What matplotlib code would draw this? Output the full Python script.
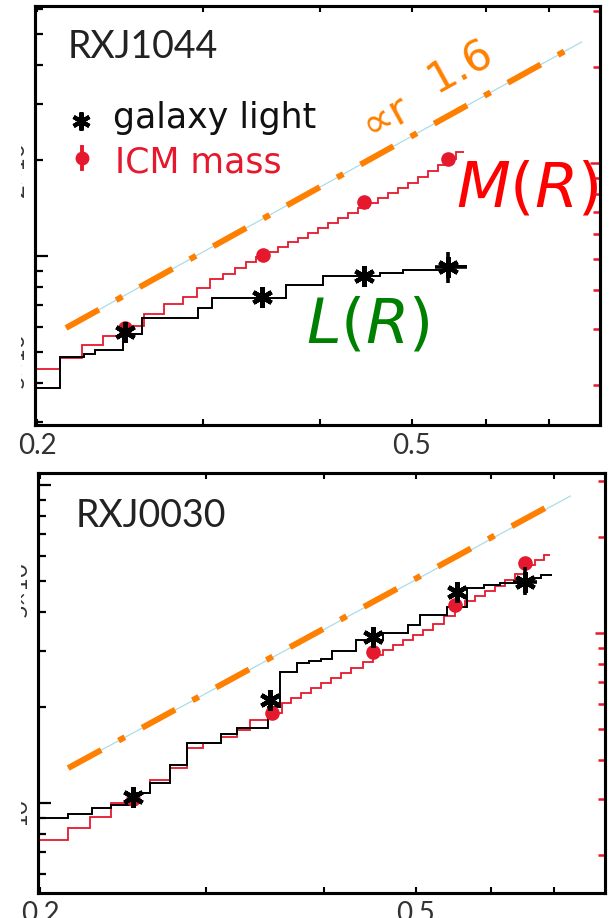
import matplotlib
matplotlib.use("Agg")
import matplotlib.pyplot as plt
from matplotlib.ticker import FixedLocator, NullFormatter, LogLocator, FixedFormatter
from matplotlib.transforms import blended_transform_factory, Bbox

plt.rcParams['font.family'] = ['Lato', 'DejaVu Sans']
plt.rcParams['mathtext.fontset'] = 'dejavusans'

# ---------------- data : radius R (Mpc) ----------------
XLIM = (0.199, 0.793)
x_major = [0.2, 0.5]
x_major_labels = ['0.2', '0.5']
x_minor = [0.3, 0.4, 0.6, 0.7]

# ---- RXJ1044 (top) ----
name1 = 'RXJ1044'
ylim1 = (0.2941, 6.113)
mass_factor1 = 5.10
r_edges_L1 = [0.199, 0.2115, 0.2244, 0.2304, 0.2468, 0.2586, 0.2964, 0.3068, 0.3676,
              0.4024, 0.4624, 0.4892, 0.5462, 0.5722]
L1 = [0.385, 0.481, 0.492, 0.506, 0.568, 0.638, 0.686, 0.738, 0.811, 0.865, 0.884, 0.904, 0.930]
r_edges_M1 = [0.199, 0.2115, 0.2232, 0.2350, 0.2468, 0.2598, 0.2728, 0.2858, 0.2958, 0.3054,
              0.3152, 0.3246, 0.3334, 0.3416, 0.3518, 0.3606, 0.3696, 0.3786, 0.3880, 0.3976,
              0.4074, 0.4174, 0.4278, 0.4384, 0.4492, 0.4602, 0.4716, 0.4832, 0.4952, 0.5076,
              0.5202, 0.5330, 0.5462, 0.5570, 0.5680]
M1 = [0.441, 0.478, 0.525, 0.560, 0.602, 0.657, 0.707, 0.743, 0.793, 0.847, 0.878, 0.917,
      0.957, 0.993, 1.029, 1.067, 1.107, 1.139, 1.181, 1.225, 1.270, 1.317, 1.365, 1.416,
      1.468, 1.522, 1.578, 1.636, 1.697, 1.772, 1.850, 1.932, 2.018, 2.123]
r_gal1 = [0.248, 0.3466, 0.4448, 0.5462]
L_gal1 = [0.577, 0.743, 0.865, 0.924]
L_gal1_yerr = [[0.10], [0.105]]
L_gal1_xerr = [[0.016], [0.026]]
r_icm1 = [0.248, 0.3476, 0.4448, 0.5462]
M_icm1 = [0.594, 1.007, 1.478, 2.018]
r_pow1 = [0.2147, 0.758]
pow1 = [0.594, 4.709]
r_pow1_dash = [0.2147, 0.7378]
pow1_dash = [0.594, 4.510]
ylab_vals1 = [2.0, 0.5]
ylab_txt1 = ['2×10$^{12}$', '5×10$^{11}$']

# ---- RXJ0030 (bottom) ----
name2 = 'RXJ0030'
ylim2 = (0.5212, 10.91)
mass_factor2 = 2.92
r_edges_L2 = [0.199, 0.2142, 0.2271, 0.2379, 0.2505, 0.2617, 0.2748, 0.2865, 0.3106, 0.3230,
              0.3484, 0.3587, 0.3740, 0.3851, 0.3965, 0.4073, 0.4320, 0.4615, 0.4906, 0.5051,
              0.5395, 0.5665, 0.5906, 0.6142, 0.6626, 0.6789, 0.6975]
L2 = [0.897, 0.923, 0.965, 0.986, 1.075, 1.156, 1.317, 1.544, 1.648, 1.722, 2.004, 2.582,
      2.756, 2.796, 2.837, 3.006, 3.255, 3.424, 3.628, 3.902, 4.135, 4.744, 4.848, 4.919,
      5.100, 5.212]
r_edges_M2 = [0.199, 0.2142, 0.2260, 0.2379, 0.2505, 0.2617, 0.2748, 0.2865, 0.2979, 0.3106,
              0.3230, 0.3334, 0.3484, 0.3605, 0.3686, 0.3776, 0.3869, 0.3965, 0.4064, 0.4164,
              0.4267, 0.4394, 0.4502, 0.4615, 0.4728, 0.4845, 0.4965, 0.5087, 0.5213, 0.5355,
              0.5502, 0.5638, 0.5777, 0.5920, 0.6068, 0.6218, 0.6372, 0.6530, 0.6690, 0.6840,
              0.6940]
M2 = [0.765, 0.834, 0.904, 1.000, 1.075, 1.181, 1.288, 1.489, 1.544, 1.613, 1.697, 1.824,
      1.919, 2.063, 2.139, 2.218, 2.299, 2.385, 2.473, 2.563, 2.658, 2.776, 2.921, 3.028,
      3.140, 3.255, 3.375, 3.499, 3.655, 3.873, 4.135, 4.318, 4.477, 4.642, 4.813, 5.027,
      5.250, 5.603, 5.809, 6.025]
r_gal2 = [0.2508, 0.350, 0.4502, 0.553, 0.653]
L_gal2 = [1.044, 2.108, 3.327, 4.608, 4.955]
L_gal2_yerr = [[0.445], [0.565]]
L_gal2_xerr = [[0.019], [0.019]]
r_icm2 = [0.2508, 0.352, 0.4502, 0.5502, 0.653]
M_icm2 = [1.029, 1.919, 2.984, 4.195, 5.685]
r_pow2 = [0.2142, 0.7288]
pow2 = [1.288, 9.234]
r_pow2_dash = [0.2142, 0.7008]
pow2_dash = [1.288, 8.779]
ylab_vals2 = [5.0, 1.0]
ylab_txt2 = ['5×10$^{12}$', '10$^{12}$']

legend_labels = ['galaxy light', 'ICM mass']

# ---------------- style ----------------
RED = '#e6182d'
ORANGE = '#ff8000'
CYAN = '#a9dde6'

fig = plt.figure(figsize=(6.10, 9.18), dpi=100)
ax1 = fig.add_axes([35 / 610, 1 - 425 / 918, 565 / 610, 419 / 918])
ax2 = fig.add_axes([38 / 610, 1 - 893 / 918, 567 / 610, 420 / 918])


def setup(ax, ylim, factor):
    tw = ax.twinx()
    for a in (ax, tw):
        a.set_xscale('log')
        a.set_yscale('log')
        a.set_xlim(XLIM)
    ax.set_ylim(ylim)
    tw.set_ylim(ylim[0] * factor, ylim[1] * factor)
    ax.xaxis.set_major_locator(FixedLocator(x_major))
    ax.xaxis.set_major_formatter(FixedFormatter(x_major_labels))
    ax.xaxis.set_minor_locator(FixedLocator(x_minor))
    ax.xaxis.set_minor_formatter(NullFormatter())
    for a in (ax, tw):
        a.yaxis.set_major_locator(LogLocator(base=10, numticks=10))
        a.yaxis.set_minor_locator(LogLocator(base=10, subs=[2, 3, 4, 5, 6, 7, 8, 9], numticks=30))
        a.yaxis.set_major_formatter(NullFormatter())
        a.yaxis.set_minor_formatter(NullFormatter())
    ax.tick_params(axis='x', which='both', direction='in', top=True, bottom=True,
                   length=4, width=1.5, labelsize=20, labelcolor='#333333', pad=6)
    ax.tick_params(axis='y', which='major', direction='in', left=True, right=False,
                   length=9.5, width=1.6)
    ax.tick_params(axis='y', which='minor', direction='in', left=True, right=False,
                   length=5.5, width=1.6)
    tw.tick_params(axis='y', which='major', direction='in', right=True, left=False,
                   length=7, width=1.8, colors=RED, labelright=False)
    tw.tick_params(axis='y', which='minor', direction='in', right=True, left=False,
                   length=5, width=1.8, colors=RED, labelright=False)
    for a in (ax, tw):
        for s in a.spines.values():
            s.set_linewidth(2.2)
            s.set_color('black')
    return tw


def draw_panel(ax, name, ylim, factor, rL, L, rM, M, rg, Lg, Lg_yerr, Lg_xerr, ri, Mi,
               rp, p, rpd, pd, yv, yt, label_x, label_y):
    setup(ax, ylim, factor)
    ax.plot(rp, p, color=CYAN, lw=0.9, zorder=2)
    ax.plot(rpd, pd, color=ORANGE, lw=4.3, dashes=(6.3, 3.3, 1.2, 3.3),
            solid_capstyle='butt', dash_capstyle='butt', zorder=3)
    ax.stairs(M, rM, baseline=None, color=RED, lw=1.3, zorder=4)
    ax.stairs(L, rL, baseline=None, color='black', lw=1.4, zorder=5)
    ax.plot(ri, Mi, 'o', color=RED, ms=9.5, zorder=6)
    ax.plot(rg, Lg, ls='none', marker=(6, 2, 0), color='black', ms=15, mew=3.2, zorder=7)
    ax.errorbar(rg[-1:], Lg[-1:], yerr=Lg_yerr, xerr=Lg_xerr, fmt='none', ecolor='black',
                elinewidth=2.6, capsize=0, zorder=7)
    ax.text(label_x, label_y, name, transform=ax.transAxes,
            fontsize=27, color='#222222', ha='left', va='baseline')
    # cut-off left tick labels (rotated)
    tr = blended_transform_factory(ax.transAxes, ax.transData)
    x0 = -4.0 / (ax.get_position().width * 610)
    for v, s in zip(yv, yt):
        t = fig.text(x0, v, s, transform=tr, rotation=90, ha='right', va='center',
                     fontsize=17, color='#333333')
        t.set_clip_box(Bbox.from_extents(21, 0, 34, 918))
        t.set_clip_on(True)


draw_panel(ax1, name1, ylim1, mass_factor1, r_edges_L1, L1, r_edges_M1, M1,
           r_gal1, L_gal1, L_gal1_yerr, L_gal1_xerr, r_icm1, M_icm1,
           r_pow1, pow1, r_pow1_dash, pow1_dash, ylab_vals1, ylab_txt1, 0.058, 0.876)
draw_panel(ax2, name2, ylim2, mass_factor2, r_edges_L2, L2, r_edges_M2, M2,
           r_gal2, L_gal2, L_gal2_yerr, L_gal2_xerr, r_icm2, M_icm2,
           r_pow2, pow2, r_pow2_dash, pow2_dash, ylab_vals2, ylab_txt2, 0.067, 0.871)

# legend (top panel)
ax1.plot([0.0814], [0.7255], transform=ax1.transAxes, ls='none', marker=(6, 2, 0),
         color='black', ms=13, mew=3.0, clip_on=False)
ax1.plot([0.0832, 0.0832], [0.6098, 0.6646], transform=ax1.transAxes, color=RED, lw=2.8)
ax1.plot([0.0832], [0.6372], 'o', transform=ax1.transAxes, color=RED, ms=9)
ax1.text(0.138, 0.7088, legend_labels[0], transform=ax1.transAxes, fontsize=25,
         color='#111111', ha='left', va='baseline', family=['DejaVu Sans'])
ax1.text(0.1416, 0.6038, legend_labels[1], transform=ax1.transAxes, fontsize=25,
         color=RED, ha='left', va='baseline', family=['DejaVu Sans'])

# annotations (top panel)
ax1.text(0.557, 1.426, r'$M(R)$', color='#ff0000', fontsize=45, ha='left', va='baseline',
         clip_on=True, zorder=8)
ax1.text(0.386, 0.5326, r'$L(R)$', color='green', fontsize=45, ha='left', va='baseline',
         zorder=8)
ax1.text(0.470, 2.75, '∝r', color=ORANGE, fontsize=31, rotation=29, rotation_mode='anchor',
         ha='center', va='center', family=['DejaVu Sans'], zorder=8)
ax1.text(0.563, 3.95, '1.6', color=ORANGE, fontsize=31, rotation=29, rotation_mode='anchor',
         ha='center', va='center', family=['DejaVu Sans'], zorder=8)

fig.savefig('out.png', dpi=100)
